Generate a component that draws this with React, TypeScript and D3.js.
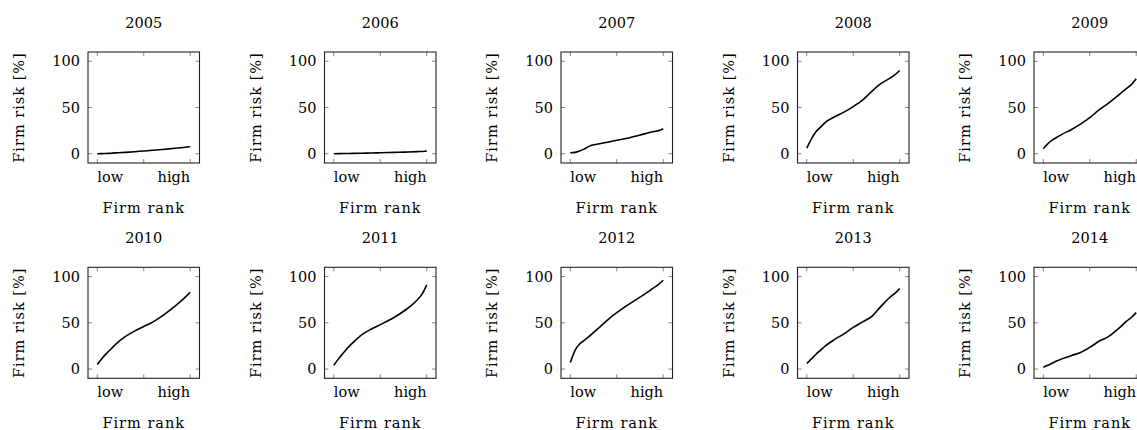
import { useEffect, useRef } from 'react';
import * as d3 from 'd3';

const years = ['2005', '2006', '2007', '2008', '2009', '2010', '2011', '2012', '2013', '2014'];
const rankPositions = [0, 0.05, 0.1, 0.15, 0.2, 0.3, 0.4, 0.5, 0.6, 0.7, 0.8, 0.9, 0.95, 1];

const risk2005 = [0, 0.15, 0.35, 0.6, 0.9, 1.5, 2.2, 3.0, 3.8, 4.6, 5.5, 6.5, 7.1, 7.8];
const risk2006 = [0, 0.1, 0.2, 0.3, 0.4, 0.6, 0.8, 1.0, 1.3, 1.6, 1.9, 2.3, 2.5, 2.8];
const risk2007 = [1, 1.5, 3, 5, 8, 10.5, 12.5, 14.5, 16.5, 19, 21.5, 24, 25, 27];
const risk2008 = [6, 16, 24, 29, 34, 40, 45, 51, 58, 67.5, 76, 82, 85.5, 90];
const risk2009 = [5.5, 11, 15, 18, 21, 26, 32, 39, 47.5, 54.5, 62.5, 71, 75, 81];
const risk2010 = [5, 11.5, 17, 22, 27, 35, 41, 46, 51, 57.5, 65, 73.5, 78, 83];
const risk2011 = [4, 11, 17, 23, 28, 37, 43, 48, 53, 59, 66, 75, 81, 91];
const risk2012 = [7, 20, 27, 31, 35, 44, 53, 61, 68, 74.5, 81, 88, 91.5, 96];
const risk2013 = [6, 11, 16, 20.5, 25, 32, 38, 45, 51, 57, 68, 78, 82, 87];
const risk2014 = [2, 4, 6.5, 9, 11, 14.5, 18, 23.5, 30, 35, 43, 52, 56, 61];

const riskByYear = [
  risk2005, risk2006, risk2007, risk2008, risk2009,
  risk2010, risk2011, risk2012, risk2013, risk2014,
];

const yTicks = [0, 50, 100];
const xTicks = [0, 0.5, 1];
const xTickLabels = [
  { value: 0, label: 'low', anchor: 'start' },
  { value: 1, label: 'high', anchor: 'end' },
];

const WIDTH = 1137;
const HEIGHT = 430;
const FONT = '"DejaVu Serif", serif';

function SmallMultiples() {
  const svgRef = useRef<SVGSVGElement>(null);

  useEffect(() => {
    const root = d3.select(svgRef.current);
    root.selectAll('*').remove();

    const boxW = 111.5;
    const boxH = 111;
    const colStep = 236.5;
    const rowStep = 215.3;
    const left0 = 88;
    const top0 = 52;

    const x = d3.scaleLinear().domain([-0.1, 1.1]).range([0, boxW]);
    const y = d3.scaleLinear().domain([-10, 110]).range([boxH, 0]);
    const line = d3
      .line<number>()
      .x((_, i) => x(rankPositions[i]))
      .y(d => y(d))
      .curve(d3.curveMonotoneX);

    years.forEach((year, idx) => {
      const col = idx % 5;
      const row = Math.floor(idx / 5);
      const g = root
        .append('g')
        .attr('transform', `translate(${left0 + col * colStep}, ${top0 + row * rowStep})`)
        .style('font-family', FONT)
        .style('font-size', '14.5px')
        .attr('fill', '#000');

      // ticks (inside, all four sides)
      const tickLen = 4;
      const tickColor = '#666';
      yTicks.forEach(t => {
        g.append('line')
          .attr('x1', 0).attr('x2', tickLen)
          .attr('y1', y(t)).attr('y2', y(t))
          .attr('stroke', tickColor).attr('stroke-width', 0.8);
        g.append('line')
          .attr('x1', boxW - tickLen).attr('x2', boxW)
          .attr('y1', y(t)).attr('y2', y(t))
          .attr('stroke', tickColor).attr('stroke-width', 0.8);
        g.append('text')
          .attr('x', -8)
          .attr('y', y(t))
          .attr('dy', '0.36em')
          .attr('text-anchor', 'end')
          .text(t);
      });
      xTicks.forEach(t => {
        g.append('line')
          .attr('x1', x(t)).attr('x2', x(t))
          .attr('y1', boxH).attr('y2', boxH - tickLen)
          .attr('stroke', tickColor).attr('stroke-width', 0.8);
        g.append('line')
          .attr('x1', x(t)).attr('x2', x(t))
          .attr('y1', 0).attr('y2', tickLen)
          .attr('stroke', tickColor).attr('stroke-width', 0.8);
      });

      xTickLabels.forEach(t => {
        g.append('text')
          .attr('x', x(t.value))
          .attr('y', boxH + 19)
          .attr('text-anchor', t.anchor)
          .text(t.label);
      });

      g.append('path')
        .datum(riskByYear[idx])
        .attr('d', line)
        .attr('fill', 'none')
        .attr('stroke', '#000')
        .attr('stroke-width', 1.6)
        .attr('stroke-linejoin', 'round');

      g.append('rect')
        .attr('x', 0)
        .attr('y', 0)
        .attr('width', boxW)
        .attr('height', boxH)
        .attr('fill', 'none')
        .attr('stroke', '#222')
        .attr('stroke-width', 1.1);

      g.append('text')
        .attr('x', boxW / 2)
        .attr('y', -24.5)
        .attr('text-anchor', 'middle')
        .text(year);

      g.append('text')
        .attr('x', boxW / 2)
        .attr('y', boxH + 50)
        .attr('text-anchor', 'middle')
        .style('letter-spacing', '1px')
        .text('Firm rank');

      g.append('text')
        .attr('transform', `translate(${-64}, ${boxH / 2}) rotate(-90)`)
        .attr('text-anchor', 'middle')
        .style('letter-spacing', '1px')
        .text('Firm risk [%]');
    });
  }, []);

  return (
    <svg
      ref={svgRef}
      width={WIDTH}
      height={HEIGHT}
      style={{ position: 'absolute', left: 0, top: 0, background: '#fff' }}
    />
  );
}

export default function App() {
  return <SmallMultiples />;
}
